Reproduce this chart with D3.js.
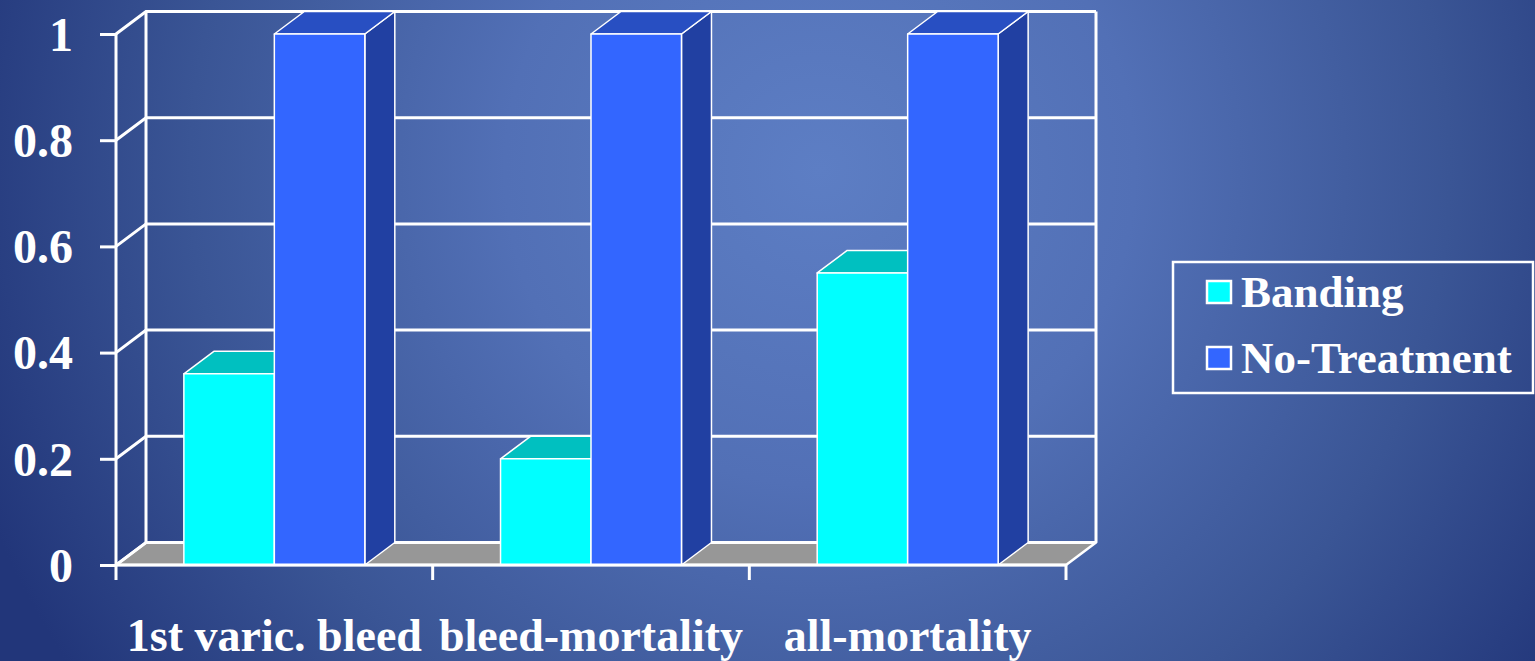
<!DOCTYPE html>
<html>
<head>
<meta charset="utf-8">
<script src="https://cdn.jsdelivr.net/npm/d3@7"></script>
<style>
  html, body { margin: 0; padding: 0; overflow: hidden; }
  svg { display: block; }
  text { font-family: "Liberation Serif", "Times New Roman", serif; font-weight: bold; fill: #fff; }
</style>
</head>
<body>
<svg id="chart" width="1535" height="661"></svg>
<script>
// Outcome rates relative to no treatment
const categories = ["1st varic. bleed", "bleed-mortality", "all-mortality"];
const series = ["Banding", "No-Treatment"];
const banding = [0.36, 0.2, 0.55];
const noTreatment = [1, 1, 1];
const yTicks = [0, 0.2, 0.4, 0.6, 0.8, 1];
const yTickLabels = ["0", "0.2", "0.4", "0.6", "0.8", "1"];

const values = [banding, noTreatment];
const faceColors = {
  "Banding": { front: "#00ffff", top: "#00c0c0", side: "#009a9a" },
  "No-Treatment": { front: "#3366ff", top: "#284fc2", side: "#2140a2" }
};

const W = 1535, H = 661;
const svg = d3.select("#chart");

// Background
const defs = svg.append("defs");
const bg = defs.append("radialGradient").attr("id", "bg")
  .attr("gradientUnits", "userSpaceOnUse")
  .attr("cx", 820).attr("cy", 170).attr("r", 900);
bg.append("stop").attr("offset", 0).attr("stop-color", "#5d7ec4");
bg.append("stop").attr("offset", 0.35).attr("stop-color", "#5270b6");
bg.append("stop").attr("offset", 0.7).attr("stop-color", "#3a5595");
bg.append("stop").attr("offset", 1).attr("stop-color", "#22367a");
svg.append("rect").attr("width", W).attr("height", H).attr("fill", "url(#bg)");

// Plot geometry: front plane and depth offset of the 3D box
const plotLeft = 116, plotRight = 1066, plotBottom = 565, plotTop = 34;
const dx = 30, dy = -22.5;

const x = d3.scaleBand().domain(categories).range([plotLeft, plotRight]).paddingInner(0).paddingOuter(0);
const xs = d3.scaleBand().domain(series).range([0, x.bandwidth()]).paddingInner(0).paddingOuter(0.75);
const y = d3.scaleLinear().domain([0, 1]).range([plotBottom, plotTop]);

const g = svg.append("g");
const line = (pts) => "M" + pts.map(p => p.join(",")).join("L");
const poly = (pts) => line(pts) + "Z";

// Floor
g.append("path")
  .attr("d", poly([[plotLeft, plotBottom], [plotRight, plotBottom], [plotRight + dx, plotBottom + dy], [plotLeft + dx, plotBottom + dy]]))
  .attr("fill", "#979797").attr("stroke", "#fff").attr("stroke-width", 2.5).attr("stroke-linejoin", "round");

// Walls: gridlines on the side wall and back wall
const wall = g.append("g").attr("stroke", "#fff").attr("stroke-width", 3).attr("fill", "none");
yTicks.forEach(t => {
  wall.append("path").attr("d", line([[plotLeft, y(t)], [plotLeft + dx, y(t) + dy], [plotRight + dx, y(t) + dy]]));
});
wall.append("path").attr("d", line([[plotLeft + dx, y(1) + dy], [plotLeft + dx, y(0) + dy]]));
wall.append("path").attr("d", line([[plotRight + dx, y(1) + dy], [plotRight + dx, y(0) + dy]]));

// Bars drawn as 3D boxes (side, top, front)
const bars = g.append("g");
categories.forEach((c, i) => {
  series.forEach((s, k) => {
    const v = values[k][i];
    const x0 = x(c) + xs(s), x1 = x0 + xs.bandwidth();
    const y0 = y(0), y1 = y(v);
    const col = faceColors[s];
    const b = bars.append("g").attr("stroke", "#fff").attr("stroke-width", 1.5).attr("stroke-linejoin", "round");
    b.append("path").attr("d", poly([[x1, y1], [x1 + dx, y1 + dy], [x1 + dx, y0 + dy], [x1, y0]])).attr("fill", col.side);
    b.append("path").attr("d", poly([[x0, y1], [x0 + dx, y1 + dy], [x1 + dx, y1 + dy], [x1, y1]])).attr("fill", col.top);
    b.append("rect").attr("x", x0).attr("y", y1).attr("width", x1 - x0).attr("height", y0 - y1).attr("fill", col.front);
  });
});

// Front axis lines
const axes = g.append("g").attr("stroke", "#fff").attr("stroke-width", 3).attr("fill", "none");
axes.append("path").attr("d", line([[plotLeft, y(1)], [plotLeft, plotBottom + 15]]));
axes.append("path").attr("d", line([[plotLeft, plotBottom], [plotRight, plotBottom]]));
categories.forEach(c => {
  const xb = x(c) + x.bandwidth();
  axes.append("path").attr("d", line([[xb, plotBottom], [xb, plotBottom + 15]]));
});

// Y axis ticks and labels
const yAxis = d3.axisLeft(y).tickValues(yTicks).tickSize(16).tickPadding(27)
  .tickFormat((d, i) => yTickLabels[i]);
const ya = svg.append("g").attr("transform", `translate(${plotLeft},0)`).call(yAxis);
ya.select(".domain").remove();
ya.selectAll(".tick line").attr("stroke", "#fff").attr("stroke-width", 3);
ya.selectAll(".tick text").attr("font-size", 48).attr("font-family", null).attr("fill", "#fff")
  .attr("dy", "0.34em");

// Category labels
svg.append("g").selectAll("text").data(categories).join("text")
  .attr("x", d => x(d) + x.bandwidth() / 2)
  .attr("y", 651)
  .attr("text-anchor", "middle")
  .attr("font-size", 46)
  .text(d => d);

// Legend
const lg = svg.append("g");
lg.append("rect").attr("x", 1173).attr("y", 262).attr("width", 360).attr("height", 131)
  .attr("fill", "none").attr("stroke", "#fff").attr("stroke-width", 2.5);
series.forEach((s, k) => {
  const yy = 281 + k * 66;
  lg.append("rect").attr("x", 1207).attr("y", yy).attr("width", 24).attr("height", 22)
    .attr("fill", faceColors[s].front).attr("stroke", "#fff").attr("stroke-width", 2.5);
  lg.append("text").attr("x", 1241).attr("y", yy + 26).attr("font-size", 45).text(s);
});
</script>
</body>
</html>
